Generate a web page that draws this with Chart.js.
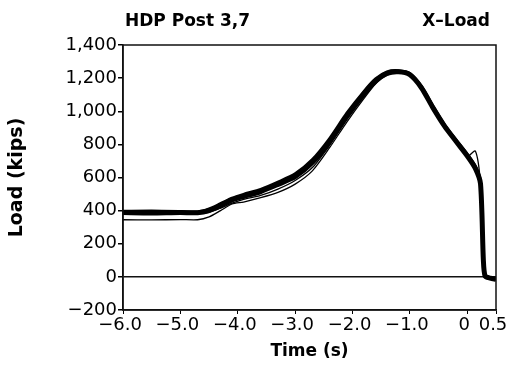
<!DOCTYPE html>
<html>
<head>
<meta charset="utf-8">
<script src="https://cdn.jsdelivr.net/npm/chart.js@4/dist/chart.umd.min.js"></script>
<style>
  body { margin: 0; background: #fff; }
</style>
</head>
<body>
<canvas id="chart" width="514" height="370"></canvas>
<script>
// time axis (s) shared by every run
const times = [-6.0, -5.5, -5.0, -4.7, -4.5, -4.3, -4.1, -3.9, -3.6, -3.3, -3.0, -2.7, -2.4, -2.1, -1.8, -1.6, -1.4, -1.2, -1.0, -0.8, -0.6, -0.4, -0.2, 0.0, 0.14, 0.23, 0.28, 0.31, 0.4, 0.5];

// load (kips) of the overlaid test runs
const runA = [388, 386, 389, 387, 400, 430, 465, 485, 515, 558, 605, 690, 815, 968, 1105, 1182, 1228, 1238, 1220, 1142, 1022, 912, 820, 730, 655, 562, 100, 5, -8, -15];
const runB = [396, 398, 395, 392, 410, 442, 475, 498, 528, 572, 622, 708, 835, 988, 1120, 1195, 1238, 1245, 1228, 1150, 1032, 920, 828, 740, 668, 575, 120, 8, -6, -14];
const runC = [345, 344, 346, 345, 362, 400, 440, 452, 478, 510, 560, 640, 780, 935, 1078, 1165, 1218, 1232, 1216, 1140, 1018, 908, 818, 728, 760, 560, 90, 4, -10, -16];
const runD = [380, 382, 378, 382, 390, 415, 445, 468, 492, 530, 582, 660, 795, 952, 1092, 1175, 1222, 1236, 1218, 1145, 1025, 915, 822, 733, 650, 560, 95, 6, -9, -15];

const xTicks = [-6.0, -5.0, -4.0, -3.0, -2.0, -1.0, 0, 0.5];
const xTickLabels = ['\u22126.0', '\u22125.0', '\u22124.0', '\u22123.0', '\u22122.0', '\u22121.0', '0', '0.5'];
const yTicks = [-200, 0, 200, 400, 600, 800, 1000, 1200, 1400];
const yTickLabels = ['\u2212200', '0', '200', '400', '600', '800', '1,000', '1,200', '1,400'];

const toPoints = (ys) => times.map((t, i) => ({ x: t, y: ys[i] }));

const line = (label, ys, width) => ({
    label: label,
    data: toPoints(ys),
    borderColor: '#000',
    borderWidth: width,
    pointRadius: 0,
    tension: 0.25,
    fill: false
});

// frame around the plot area and the two header texts
const framePlugin = {
    id: 'frame',
    afterDraw(chart) {
        const { ctx, chartArea: a } = chart;
        ctx.save();
        ctx.strokeStyle = '#111';
        ctx.lineWidth = 1.5;
        ctx.strokeRect(a.left, a.top, a.right - a.left, a.bottom - a.top);
        ctx.fillStyle = '#000';
        ctx.font = 'bold 17px "DejaVu Sans"';
        ctx.textBaseline = 'alphabetic';
        ctx.textAlign = 'left';
        ctx.fillText('HDP Post 3,7', 125, 26);
        ctx.textAlign = 'right';
        ctx.fillText('X\u2013Load', 490, 26);
        ctx.restore();
    }
};

const ctx = document.getElementById('chart').getContext('2d');
new Chart(ctx, {
    type: 'line',
    data: {
        datasets: [
            line('Run A', runA, 5),
            line('Run B', runB, 3),
            line('Run C', runC, 1.3),
            line('Run D', runD, 1.3)
        ]
    },
    options: {
        responsive: false,
        animation: false,
        layout: { padding: { top: 45, right: 18, bottom: 0, left: 0 } },
        plugins: {
            legend: { display: false },
            tooltip: { enabled: false }
        },
        scales: {
            x: {
                type: 'linear',
                min: -6.0,
                max: 0.5,
                afterBuildTicks: (scale) => { scale.ticks = xTicks.map(v => ({ value: v })); },
                afterFit: (scale) => { scale.height = 60; },
                ticks: {
                    color: '#000',
                    font: { family: 'DejaVu Sans', size: 18 },
                    padding: 1,
                    labelOffset: -3,
                    maxRotation: 0,
                    autoSkip: false,
                    callback: (v) => xTickLabels[xTicks.indexOf(v)]
                },
                grid: { drawOnChartArea: false, tickLength: 4, color: '#000' },
                border: { color: '#111', width: 1.5 },
                title: {
                    display: true,
                    text: 'Time (s)',
                    color: '#000',
                    font: { family: 'DejaVu Sans', size: 17, weight: 'bold' },
                    padding: { top: 0, bottom: 8 }
                }
            },
            y: {
                min: -200,
                max: 1400,
                afterBuildTicks: (scale) => { scale.ticks = yTicks.map(v => ({ value: v })); },
                afterFit: (scale) => { scale.width = 123; },
                ticks: {
                    color: '#000',
                    font: { family: 'DejaVu Sans', size: 18 },
                    padding: 1,
                    autoSkip: false,
                    callback: (v) => yTickLabels[yTicks.indexOf(v)]
                },
                grid: {
                    tickLength: 5,
                    tickColor: '#000',
                    lineWidth: 1.5,
                    color: (c) => (c.tick && c.tick.value === 0 ? '#111' : 'rgba(0,0,0,0)')
                },
                border: { color: '#111', width: 1.5 },
                title: {
                    display: true,
                    text: 'Load (kips)',
                    color: '#000',
                    font: { family: 'DejaVu Sans', size: 19, weight: 'bold' },
                    padding: { top: 6, bottom: 0 }
                }
            }
        }
    },
    plugins: [framePlugin]
});
</script>
</body>
</html>
